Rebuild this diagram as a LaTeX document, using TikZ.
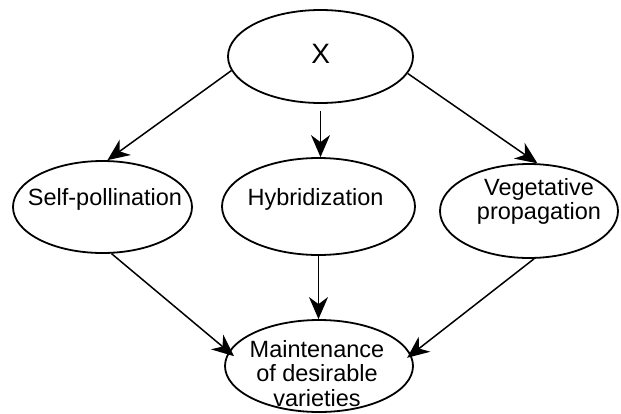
\documentclass[tikz,border=0pt]{standalone}
\usepackage{fontspec}
\setmainfont{Liberation Sans}
\usetikzlibrary{shapes.geometric,arrows.meta}
\tikzset{
  oval/.style={draw, ellipse, line width=1.8pt, inner sep=0pt},
  txt/.style={inner sep=0pt, font=\fontsize{23.5}{24.5}\selectfont, align=center},
  arr/.style={line width=1.5pt, -{Stealth[length=22pt,width=19pt,inset=7pt]}}
}
\begin{document}
\begin{tikzpicture}[x=1pt,y=-1pt]
\useasboundingbox (0,0) rectangle (621,413);
% ellipses
\node[oval, minimum width=185pt, minimum height=93pt] (X) at (320.5,56.5) {};
\node[oval, minimum width=179pt, minimum height=92pt] (Self) at (102.5,207) {};
\node[oval, minimum width=193pt, minimum height=97pt] (Hyb) at (318.5,206.5) {};
\node[oval, minimum width=178pt, minimum height=94pt] (Veg) at (529,211) {};
\node[oval, minimum width=188pt, minimum height=92pt] (Bot) at (319,366) {};
% texts
\node[txt, anchor=base, font=\fontsize{28}{30}\selectfont] (Xt) at (320.7,63) {X};
\node[txt, anchor=base] (Selft) at (105,205) {Self-pollination};
\node[txt, anchor=base] (Hybt) at (315.5,205) {Hybridization};
\node[txt, anchor=north] (Vegt) at (539,178) {Vegetative\\propagation};
\node[txt, anchor=north] (Bott) at (317,340) {Maintenance\\of desirable\\varieties};
% connectors
\draw[arr] (X.189.7) -- (Self.84.6);
\draw[arr] (X.349.8) -- (Veg.80.3);
\draw[arr, shorten <=7pt] (X.south) -- (X.south |- Hyb.north);
\draw[arr] (Hyb.south) -- (Hyb.south |- Bot.north);
\draw[arr, shorten >=-7pt] (Self.281) -- (Bot.171.8);
\draw[arr, shorten >=-5pt] (Veg.276.8) -- (Bot.7.7);
\end{tikzpicture}
\end{document}
